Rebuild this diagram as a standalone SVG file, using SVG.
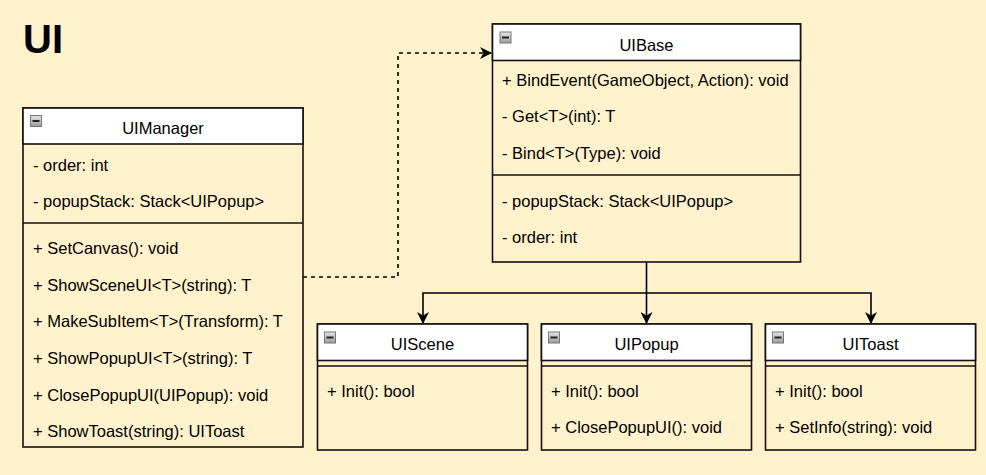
<svg xmlns="http://www.w3.org/2000/svg" width="986" height="475" viewBox="0 0 986 475">
<defs>
<linearGradient id="ig" x1="0" y1="0" x2="0" y2="1">
<stop offset="0" stop-color="#e8e8e8"/>
<stop offset="1" stop-color="#9a9a9a"/>
</linearGradient>
<marker id="arr" viewBox="0 0 12 12" refX="11" refY="6" markerWidth="12" markerHeight="12" markerUnits="userSpaceOnUse" orient="auto">
<path d="M0,0 L12,6 L0,12 L3.5,6 Z" fill="#000"/>
</marker>
<g id="icon">
<rect x="0.5" y="0.5" width="11" height="11" fill="url(#ig)" stroke="#777" stroke-width="1"/>
<rect x="2.5" y="5" width="7" height="2" fill="#222"/>
</g>
</defs>
<style>
.bg{fill:#fff2cc}
.body{fill:#fff2cc;stroke:#111;stroke-width:1.6}
.head{fill:#ffffff;stroke:#111;stroke-width:1.6}
.sep{stroke:#111;stroke-width:1.6;fill:none}
.t{font-family:"Liberation Sans",Arial,sans-serif;font-size:16.5px;fill:#000}
.h{font-family:"Liberation Sans",Arial,sans-serif;font-size:16.5px;fill:#000;text-anchor:middle}
.title{font-family:"Liberation Sans",Arial,sans-serif;font-size:40px;font-weight:bold;fill:#000}
.edge{stroke:#000;stroke-width:1.6;fill:none}
.dash{stroke-dasharray:4 4}
</style>
<rect class="bg" x="0" y="0" width="986" height="475"/>
<text class="title" x="23" y="53">UI</text>

<g id="connectors">
<path class="edge dash" d="M303,277 H398 V53 H491" marker-end="url(#arr)"/>
<path class="edge" d="M646.5,262 V323" marker-end="url(#arr)"/>
<path class="edge" d="M646.5,293 H423 V323" marker-end="url(#arr)"/>
<path class="edge" d="M646.5,293 H871 V323" marker-end="url(#arr)"/>
</g>

<g id="UIManager">
<rect class="body" x="23" y="108" width="280" height="339"/>
<rect class="head" x="23" y="108" width="280" height="36"/>
<use href="#icon" x="30" y="115"/>
<text class="h" x="163" y="134">UIManager</text>
<text class="t" x="33" y="170.5">- order: int</text>
<text class="t" x="33" y="207">- popupStack: Stack&lt;UIPopup&gt;</text>
<line class="sep" x1="23" y1="223" x2="303" y2="223"/>
<text class="t" x="33" y="254">+ SetCanvas(): void</text>
<text class="t" x="33" y="290.5">+ ShowSceneUI&lt;T&gt;(string): T</text>
<text class="t" x="33" y="327">+ MakeSubItem&lt;T&gt;(Transform): T</text>
<text class="t" x="33" y="363.7">+ ShowPopupUI&lt;T&gt;(string): T</text>
<text class="t" x="33" y="400.5">+ ClosePopupUI(UIPopup): void</text>
<text class="t" x="33" y="437">+ ShowToast(string): UIToast</text>
</g>

<g id="UIBase">
<rect class="body" x="492.5" y="24" width="308" height="238"/>
<rect class="head" x="492.5" y="24" width="308" height="36.5"/>
<use href="#icon" x="499.5" y="31.5"/>
<text class="h" x="646.5" y="50.5">UIBase</text>
<text class="t" x="502" y="85.5">+ BindEvent(GameObject, Action): void</text>
<text class="t" x="502" y="122">- Get&lt;T&gt;(int): T</text>
<text class="t" x="502" y="158.7">- Bind&lt;T&gt;(Type): void</text>
<line class="sep" x1="492.5" y1="175" x2="800.5" y2="175"/>
<text class="t" x="502" y="206.5">- popupStack: Stack&lt;UIPopup&gt;</text>
<text class="t" x="502" y="243">- order: int</text>
</g>

<g id="UIScene">
<rect class="body" x="317.5" y="324" width="210" height="126"/>
<rect class="head" x="317.5" y="324" width="210" height="36.5"/>
<use href="#icon" x="324" y="331.5"/>
<text class="h" x="422.5" y="349.5">UIScene</text>
<line class="sep" x1="317.5" y1="366" x2="527.5" y2="366"/>
<text class="t" x="327" y="396.5">+ Init(): bool</text>
</g>

<g id="UIPopup">
<rect class="body" x="541.5" y="324" width="210" height="126"/>
<rect class="head" x="541.5" y="324" width="210" height="36.5"/>
<use href="#icon" x="548" y="331.5"/>
<text class="h" x="646.5" y="349.5">UIPopup</text>
<line class="sep" x1="541.5" y1="366" x2="751.5" y2="366"/>
<text class="t" x="551" y="396.5">+ Init(): bool</text>
<text class="t" x="551" y="433">+ ClosePopupUI(): void</text>
</g>

<g id="UIToast">
<rect class="body" x="765.5" y="324" width="210" height="126"/>
<rect class="head" x="765.5" y="324" width="210" height="36.5"/>
<use href="#icon" x="772" y="331.5"/>
<text class="h" x="870.5" y="349.5">UIToast</text>
<line class="sep" x1="765.5" y1="366" x2="975.5" y2="366"/>
<text class="t" x="775" y="396.5">+ Init(): bool</text>
<text class="t" x="775" y="433">+ SetInfo(string): void</text>
</g>
</svg>
